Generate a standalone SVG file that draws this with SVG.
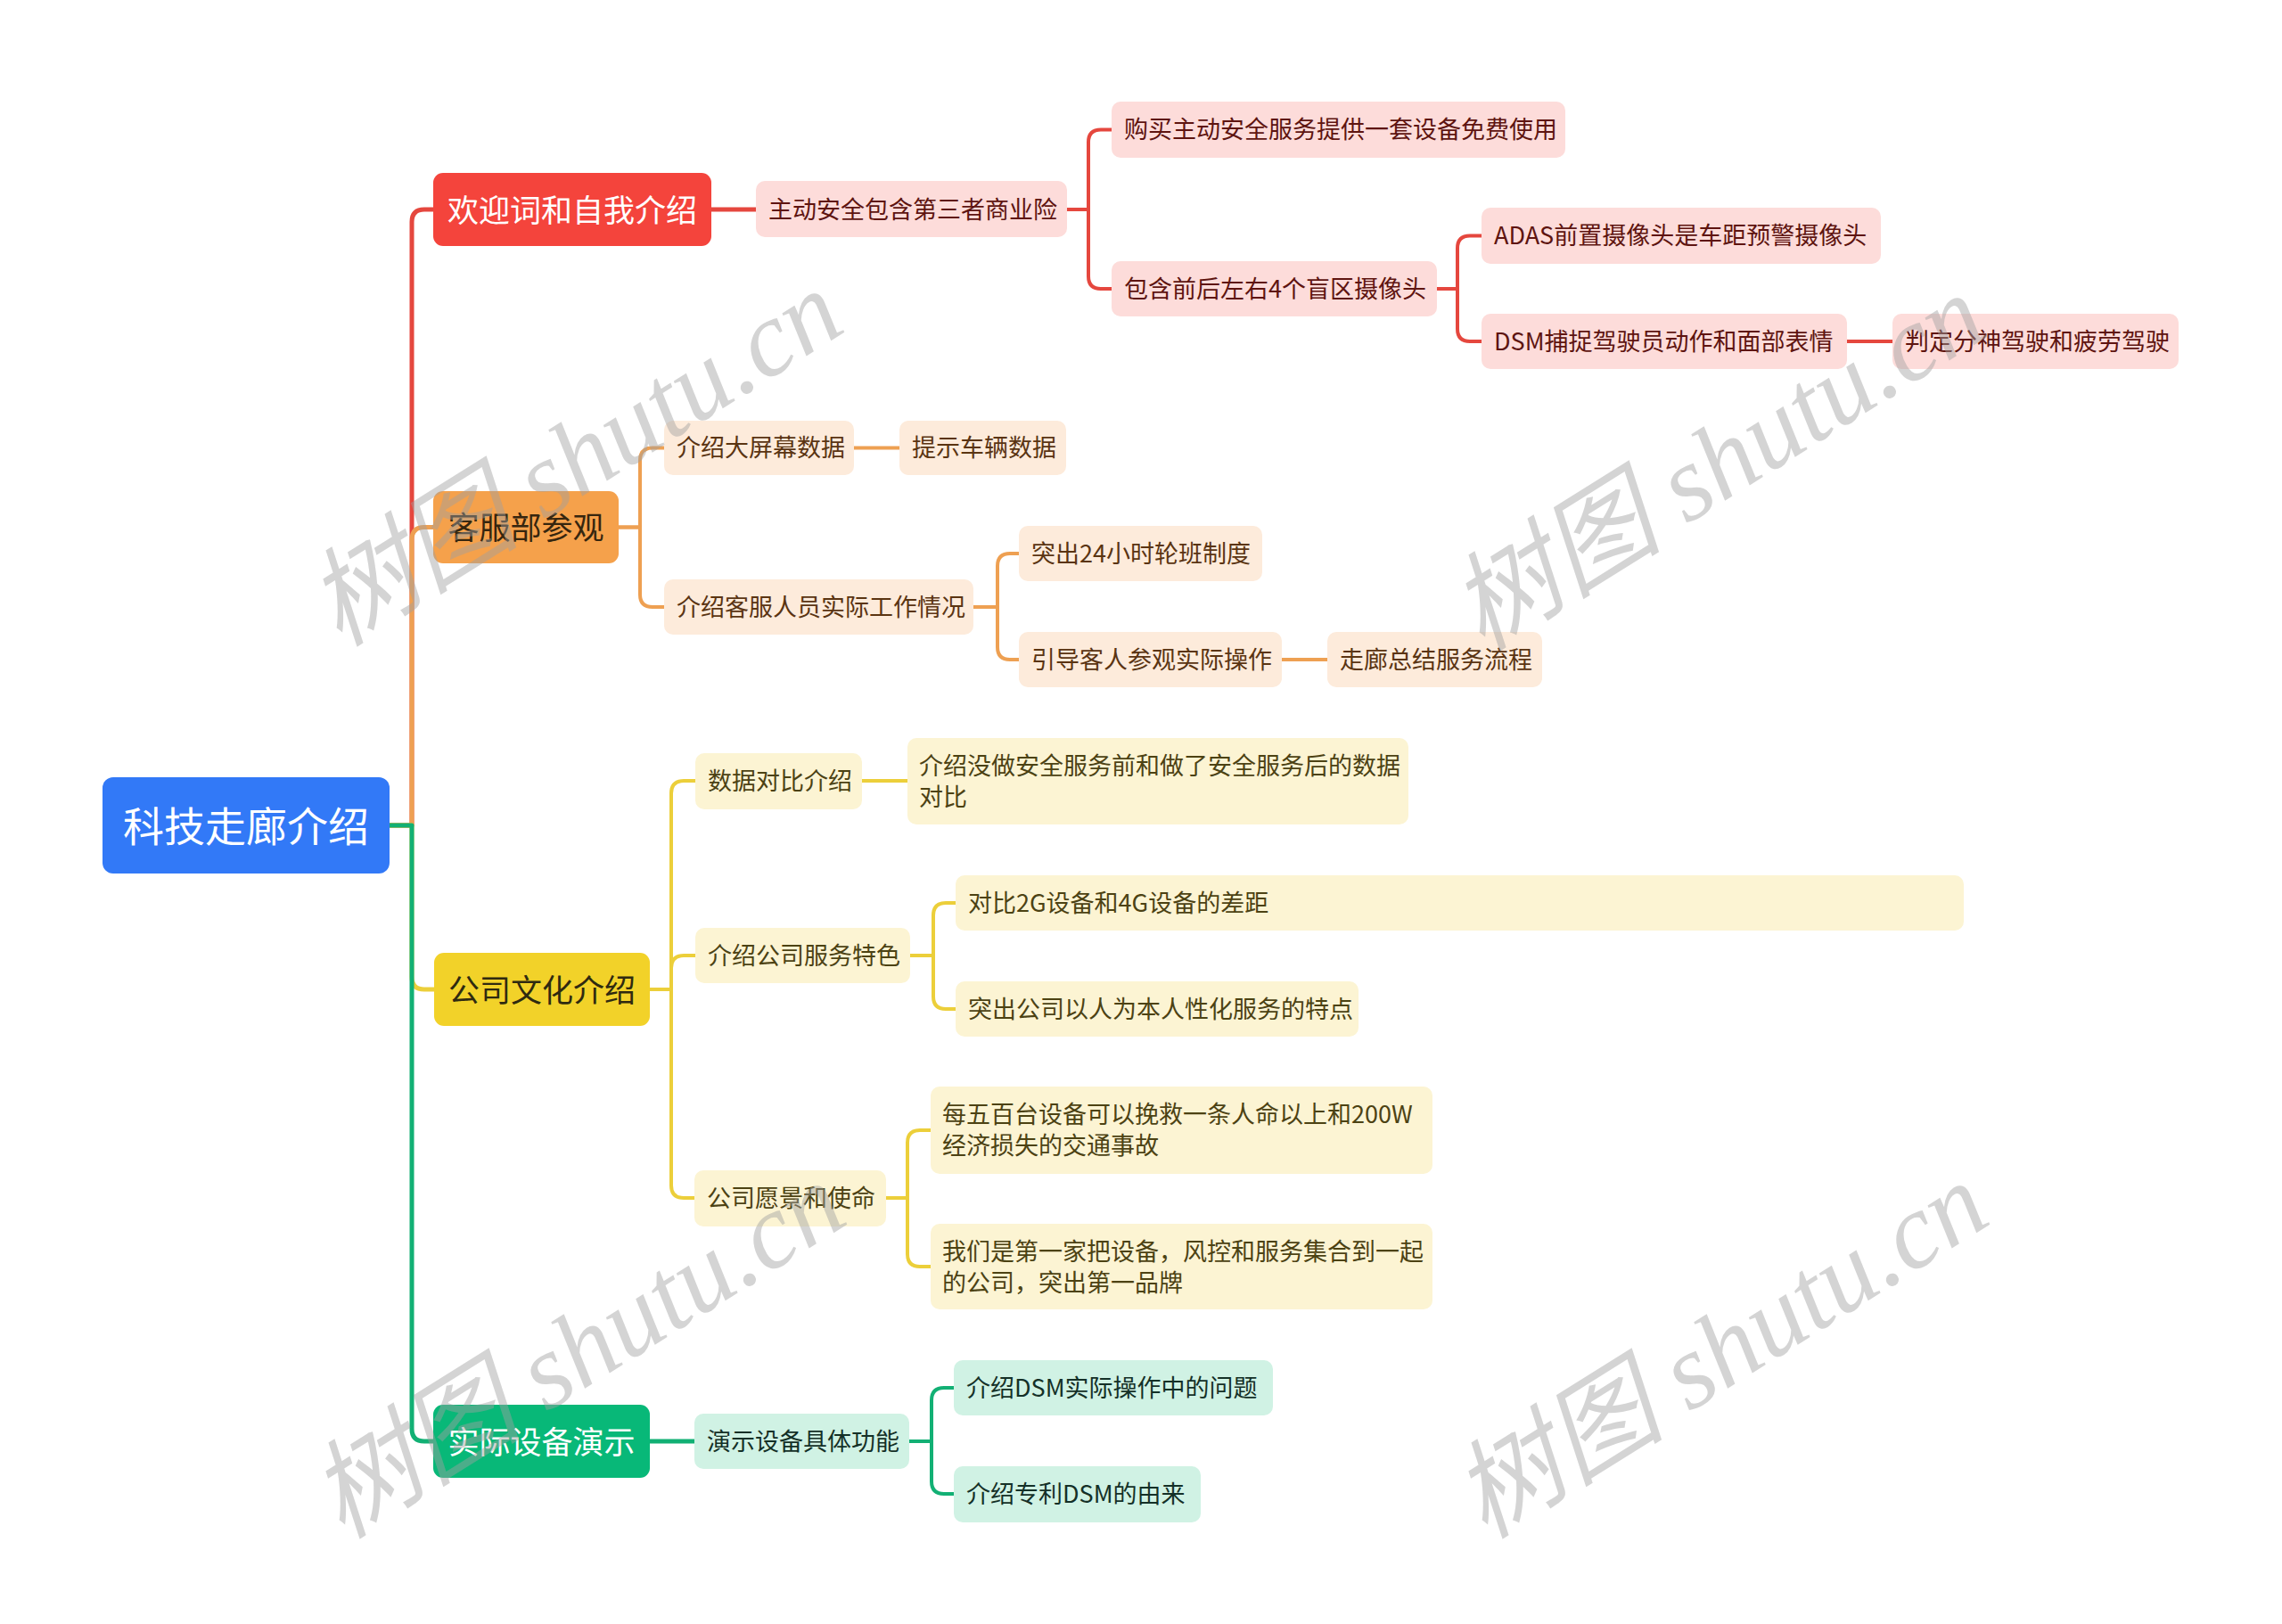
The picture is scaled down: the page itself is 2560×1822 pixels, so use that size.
<svg xmlns="http://www.w3.org/2000/svg" width="2560" height="1822" viewBox="0 0 2560 1822">
<style>
text{font-family:"Noto Sans CJK SC","Noto Sans",sans-serif;dominant-baseline:central}
.main,.sub{transform:translateY(-2px)}
.main{font-size:35px;text-anchor:middle}
.sub{font-size:27px}
.line{fill:none;stroke-width:4;stroke-linecap:round;stroke-linejoin:round}
.trunk{stroke-width:5}
.r{stroke:#E5473E}.o{stroke:#EEA052}.y{stroke:#ECCF3A}.g{stroke:#12B074}
.rs{fill:#FDDCDA}.os{fill:#FDEBDB}.ys{fill:#FCF4D3}.gs{fill:#D0F2E4}
.rt{fill:#5E1410}.ot{fill:#5A3412}.yt{fill:#4C4213}.gt{fill:#143027}
.wm{font-family:"Liberation Serif","Noto Sans CJK SC",serif;font-style:italic;font-size:120px;fill:#a0a0a0;fill-opacity:0.45;text-anchor:middle}
</style>
<rect width="2560" height="1822" fill="#ffffff"/>
<g id="connectors">
  <g>
    <path class="line trunk r" d="M437,926 H462 V249 Q462,235 476,235 H486"/>
    <path class="line trunk r" d="M798,235 H848"/>
    <path class="line r" d="M1197,235 H1221 V159.5 Q1221,145.5 1235,145.5 H1247"/>
    <path class="line r" d="M1197,235 H1221 V310 Q1221,324 1235,324 H1247"/>
    <path class="line r" d="M1612,324 H1635 V278.5 Q1635,264.5 1649,264.5 H1662"/>
    <path class="line r" d="M1612,324 H1635 V369 Q1635,383 1649,383 H1662"/>
    <path class="line r" d="M2072,383 H2123"/>
  </g>
  <g>
    <path class="line trunk o" d="M437,926 H462 V605.5 Q462,591.5 476,591.5 H486"/>
    <path class="line o" d="M694,591.5 H718 V516.5 Q718,502.5 732,502.5 H745"/>
    <path class="line o" d="M694,591.5 H718 V667 Q718,681 732,681 H745"/>
    <path class="line o" d="M958,502.5 H1009"/>
    <path class="line o" d="M1092,681 H1119 V635 Q1119,621 1133,621 H1143"/>
    <path class="line o" d="M1092,681 H1119 V726 Q1119,740 1133,740 H1143"/>
    <path class="line o" d="M1438,740 H1489"/>
  </g>
  <g>
    <path class="line trunk y" d="M437,926 H462 V1096 Q462,1110 476,1110 H487"/>
    <path class="line y" d="M729,1110 H753 V890 Q753,876 767,876 H780"/>
    <path class="line y" d="M729,1110 H753 V1086 Q753,1072 767,1072 H780"/>
    <path class="line y" d="M729,1110 H753 V1330 Q753,1344 767,1344 H779"/>
    <path class="line y" d="M967,876 H1018"/>
    <path class="line y" d="M1021,1072 H1047 V1027 Q1047,1013 1061,1013 H1072"/>
    <path class="line y" d="M1021,1072 H1047 V1118 Q1047,1132 1061,1132 H1072"/>
    <path class="line y" d="M994,1344 H1018 V1282 Q1018,1268 1032,1268 H1044"/>
    <path class="line y" d="M994,1344 H1018 V1407 Q1018,1421 1032,1421 H1044"/>
  </g>
  <g>
    <path class="line trunk g" d="M437,926 H462 V1603 Q462,1617 476,1617 H486"/>
    <path class="line trunk g" d="M729,1617 H779"/>
    <path class="line g" d="M1020,1617 H1045 V1571 Q1045,1557 1059,1557 H1070"/>
    <path class="line g" d="M1020,1617 H1045 V1662 Q1045,1676 1059,1676 H1070"/>
  </g>
</g>
<g id="root"><rect x="115" y="872" width="322" height="108" rx="12" fill="#3279F7"/><text x="276" y="924" font-size="46" text-anchor="middle" fill="#ffffff">科技走廊介绍</text></g>

<g id="n1"><rect x="486" y="194" width="312" height="82" rx="11" fill="#F4443C"/><text class="main" x="642" y="235" fill="#ffffff">欢迎词和自我介绍</text></g>
<g id="n1-1"><rect class="rs" x="848" y="203" width="349" height="63" rx="10"/><text class="sub rt" x="862" y="235">主动安全包含第三者商业险</text></g>
<g id="n1-1-1"><rect class="rs" x="1247" y="114" width="509" height="63" rx="10"/><text class="sub rt" x="1261" y="145.5">购买主动安全服务提供一套设备免费使用</text></g>
<g id="n1-1-2"><rect class="rs" x="1247" y="293" width="365" height="62" rx="10"/><text class="sub rt" x="1261" y="324">包含前后左右4个盲区摄像头</text></g>
<g id="n1-1-2-1"><rect class="rs" x="1662" y="233" width="448" height="63" rx="10"/><text class="sub rt" x="1676" y="264.5">ADAS前置摄像头是车距预警摄像头</text></g>
<g id="n1-1-2-2"><rect class="rs" x="1662" y="352" width="410" height="62" rx="10"/><text class="sub rt" x="1676" y="383">DSM捕捉驾驶员动作和面部表情</text></g>
<g id="n1-1-2-2-1"><rect class="rs" x="2123" y="352" width="321" height="62" rx="10"/><text class="sub rt" x="2137" y="383">判定分神驾驶和疲劳驾驶</text></g>

<g id="n2"><rect x="486" y="551" width="208" height="81" rx="11" fill="#F5A14B"/><text class="main" x="590" y="591.5" fill="#36260F">客服部参观</text></g>
<g id="n2-1"><rect class="os" x="745" y="472" width="213" height="61" rx="10"/><text class="sub ot" x="759" y="502.5">介绍大屏幕数据</text></g>
<g id="n2-1-1"><rect class="os" x="1009" y="472" width="187" height="61" rx="10"/><text class="sub ot" x="1023" y="502.5">提示车辆数据</text></g>
<g id="n2-2"><rect class="os" x="745" y="650" width="347" height="62" rx="10"/><text class="sub ot" x="759" y="681">介绍客服人员实际工作情况</text></g>
<g id="n2-2-1"><rect class="os" x="1143" y="590" width="273" height="62" rx="10"/><text class="sub ot" x="1157" y="621">突出24小时轮班制度</text></g>
<g id="n2-2-2"><rect class="os" x="1143" y="709" width="295" height="62" rx="10"/><text class="sub ot" x="1157" y="740">引导客人参观实际操作</text></g>
<g id="n2-2-2-1"><rect class="os" x="1489" y="709" width="241" height="62" rx="10"/><text class="sub ot" x="1503" y="740">走廊总结服务流程</text></g>

<g id="n3"><rect x="487" y="1069" width="242" height="82" rx="11" fill="#F2D229"/><text class="main" x="608" y="1110" fill="#2F2A10">公司文化介绍</text></g>
<g id="n3-1"><rect class="ys" x="780" y="845" width="187" height="63" rx="10"/><text class="sub yt" x="794" y="876.5">数据对比介绍</text></g>
<g id="n3-1-1"><rect class="ys" x="1018" y="828" width="562" height="97" rx="10"/><text class="sub yt" x="1031" y="859">介绍没做安全服务前和做了安全服务后的数据</text><text class="sub yt" x="1031" y="894">对比</text></g>
<g id="n3-2"><rect class="ys" x="780" y="1041" width="241" height="62" rx="10"/><text class="sub yt" x="794" y="1072">介绍公司服务特色</text></g>
<g id="n3-2-1"><rect class="ys" x="1072" y="982" width="1131" height="62" rx="10"/><text class="sub yt" x="1086" y="1013">对比2G设备和4G设备的差距</text></g>
<g id="n3-2-2"><rect class="ys" x="1072" y="1101" width="452" height="62" rx="10"/><text class="sub yt" x="1086" y="1132">突出公司以人为本人性化服务的特点</text></g>
<g id="n3-3"><rect class="ys" x="779" y="1313" width="215" height="63" rx="10"/><text class="sub yt" x="793" y="1344.5">公司愿景和使命</text></g>
<g id="n3-3-1"><rect class="ys" x="1044" y="1219" width="563" height="98" rx="10"/><text class="sub yt" x="1057" y="1250.5">每五百台设备可以挽救一条人命以上和200W</text><text class="sub yt" x="1057" y="1285.5">经济损失的交通事故</text></g>
<g id="n3-3-2"><rect class="ys" x="1044" y="1373" width="563" height="96" rx="10"/><text class="sub yt" x="1057" y="1404">我们是第一家把设备，风控和服务集合到一起</text><text class="sub yt" x="1057" y="1439">的公司，突出第一品牌</text></g>

<g id="n4"><rect x="486" y="1576" width="243" height="82" rx="11" fill="#08B878"/><text class="main" x="607.5" y="1617" fill="#ffffff">实际设备演示</text></g>
<g id="n4-1"><rect class="gs" x="779" y="1586" width="241" height="62" rx="10"/><text class="sub gt" x="793" y="1617">演示设备具体功能</text></g>
<g id="n4-1-1"><rect class="gs" x="1070" y="1526" width="358" height="62" rx="10"/><text class="sub gt" x="1084" y="1557">介绍DSM实际操作中的问题</text></g>
<g id="n4-1-2"><rect class="gs" x="1070" y="1645" width="277" height="63" rx="10"/><text class="sub gt" x="1084" y="1676.5">介绍专利DSM的由来</text></g>

<g id="watermarks">
  <text class="wm" x="645" y="514" transform="rotate(-32 645 514)">树图 shutu.cn</text>
  <text class="wm" x="1927" y="519" transform="rotate(-32 1927 519)">树图 shutu.cn</text>
  <text class="wm" x="648" y="1515" transform="rotate(-32 648 1515)">树图 shutu.cn</text>
  <text class="wm" x="1930" y="1515" transform="rotate(-32 1930 1515)">树图 shutu.cn</text>
</g>
</svg>
